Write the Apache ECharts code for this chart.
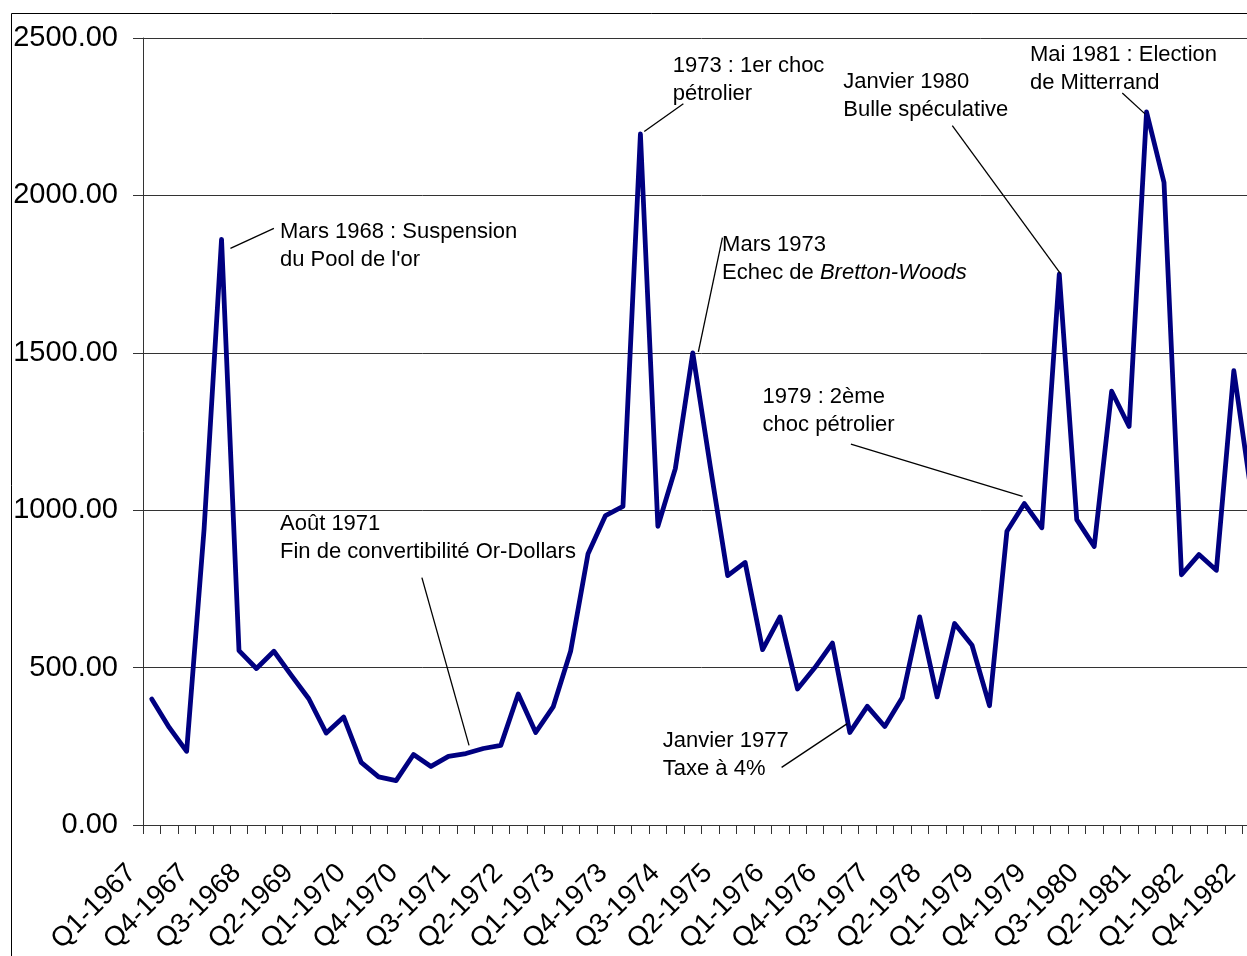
<!DOCTYPE html>
<html>
<head>
<meta charset="utf-8">
<script src="https://cdn.jsdelivr.net/npm/echarts@6/dist/echarts.min.js"></script>
<style>
  html, body { margin: 0; padding: 0; overflow: hidden; background: #fff; }
  #chart { width: 1290px; height: 956px; }
</style>
</head>
<body>
<div id="chart"></div>
<script>
// Quarterly categories, Q1-1967 .. Q4-1982
const years = [1967, 1968, 1969, 1970, 1971, 1972, 1973, 1974,
               1975, 1976, 1977, 1978, 1979, 1980, 1981, 1982];
const quarterNames = ['Q1', 'Q2', 'Q3', 'Q4'];
const quarters = [];
years.forEach(y => quarterNames.forEach(q => quarters.push(q + '-' + y)));

// Quarterly index values
const goldIndex = [
  400, 310, 234, 940, 1860, 554, 497, 552,
  475, 401, 292, 343, 199, 153, 141, 224,
  186, 218, 227, 243, 253, 416, 294, 375,
  552, 862, 983, 1012, 2195, 949, 1132, 1500,
  1140, 792, 834, 557, 661, 432, 500, 578,
  294, 377, 313, 404, 661, 407, 640, 571,
  379, 933, 1021, 944, 1750, 970, 885, 1378,
  1266, 2265, 2041, 795, 859, 809, 1443, 1055
];

// Value-axis ticks
const yMin = 0, yMax = 2500, yStep = 500;

// Event notes: text, top-left anchor [quarter index, value], leader line
const noteTexts = [
  'Mars 1968 : Suspension\ndu Pool de l\'or',
  '1973 : 1er choc\npétrolier',
  'Mars 1973\nEchec de {i|Bretton-Woods}',
  'Janvier 1980\nBulle spéculative',
  'Mai 1981 : Election\nde Mitterrand',
  'Août 1971\nFin de convertibilité Or-Dollars',
  '1979 : 2ème\nchoc pétrolier',
  'Janvier 1977\nTaxe à 4%'
];
const noteAnchors = [
  [7.35, 1928], [29.85, 2457], [32.68, 1887], [39.62, 2404],
  [50.32, 2491], [7.35, 1000], [35.00, 1403], [29.28, 313]
];
const noteLeaders = [
  [[7.00, 1895], [4.51, 1832]],
  [[30.46, 2291], [28.22, 2203]],
  [[32.70, 1866], [31.32, 1503]],
  [[45.87, 2222], [52.08, 1751]],
  [[55.61, 2325], [56.91, 2259]],
  [[15.48, 786], [18.18, 253]],
  [[40.06, 1210], [49.90, 1044]],
  [[36.09, 183], [39.85, 322]]
];

const FONT = '"Liberation Sans", Arial, sans-serif';
const chart = echarts.init(document.getElementById('chart'), null, { renderer: 'canvas' });

chart.setOption({
  animation: false,
  backgroundColor: '#fff',
  grid: { left: 143, top: 38, width: 1117, height: 787, containLabel: false, outerBoundsMode: 'none' },
  xAxis: [{
    type: 'category',
    data: quarters,
    boundaryGap: true,
    axisLine: { show: true, onZero: false, lineStyle: { color: '#333', width: 1 } },
    axisTick: { show: true, interval: 0, length: 9, alignWithLabel: false,
                lineStyle: { color: '#333', width: 1 } },
    axisLabel: {
      interval: 2, rotate: 45, margin: 24,
      color: '#000', fontSize: 27.5, fontFamily: FONT,
      formatter: v => '{q|' + v + '}',
      rich: { q: { color: '#000', fontSize: 27.5, fontFamily: FONT, padding: [0, 28, 0, 0] } }
    },
    splitLine: { show: false }
  }, {
    // continuous companion axis for placing notes between quarters
    type: 'value', min: -0.5, max: 63.5, show: false, gridIndex: 0
  }],
  yAxis: {
    type: 'value', min: yMin, max: yMax, interval: yStep,
    axisLine: { show: true, onZero: false, lineStyle: { color: '#333', width: 1 } },
    axisTick: { show: true, length: 10, lineStyle: { color: '#333', width: 1 } },
    axisLabel: {
      margin: 25, color: '#000', fontSize: 29, fontFamily: FONT,
      formatter: v => v.toFixed(2)
    },
    splitLine: { show: true, lineStyle: { color: '#333', width: 1 } }
  },
  series: [{
    type: 'line',
    data: goldIndex,
    symbol: 'none',
    lineStyle: { color: '#000080', width: 4.8, join: 'round', cap: 'round' },
    z: 3
  }, {
    type: 'lines',
    coordinateSystem: 'cartesian2d',
    xAxisIndex: 1, yAxisIndex: 0,
    silent: true,
    data: noteLeaders.map(seg => ({ coords: seg })),
    lineStyle: { color: '#000', width: 1.3, opacity: 1, curveness: 0 },
    z: 4
  }]
});

// Note texts placed through the axes
const noteGraphics = noteTexts.map((t, i) => {
  const p = chart.convertToPixel({ xAxisIndex: 1, yAxisIndex: 0 }, noteAnchors[i]);
  return {
    type: 'text', x: p[0], y: p[1], z: 10, silent: true,
    style: {
      text: t, fill: '#000', fontSize: 22, fontFamily: FONT,
      lineHeight: 28, align: 'left', verticalAlign: 'top',
      rich: { i: { fontStyle: 'italic', fontSize: 22, fontFamily: FONT, lineHeight: 28, fill: '#000' } }
    }
  };
});
noteGraphics.push({
  type: 'rect', z: 0, silent: true,
  shape: { x: 11.5, y: 13.5, width: 1400, height: 1000 },
  style: { fill: 'none', stroke: '#000', lineWidth: 1 }
});
chart.setOption({ graphic: noteGraphics });
</script>
</body>
</html>
